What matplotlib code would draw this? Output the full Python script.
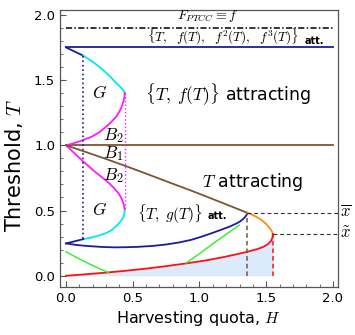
import numpy as np
import matplotlib
matplotlib.use('Agg')
import matplotlib.pyplot as plt

plt.rcParams['mathtext.fontset'] = 'cm'
plt.rcParams['font.family'] = 'DejaVu Sans'

# values (H, T)
ptcc_T = 1.9
period4_T = 1.75
fixed_T = 1.0

# upper S-branch
up_blue_H = [0.0, 0.13]
up_blue_T = [1.75, 1.686]
up_cyan_H = [0.13, 0.17, 0.217, 0.26, 0.292, 0.33, 0.367, 0.395, 0.417, 0.432, 0.44]
up_cyan_T = [1.686, 1.66, 1.627, 1.592, 1.563, 1.527, 1.487, 1.458, 1.436, 1.418, 1.40]
up_mag_H = [0.44, 0.438, 0.43, 0.417, 0.40, 0.38, 0.35, 0.32, 0.292, 0.25, 0.192, 0.14, 0.092, 0.045, 0.0]
up_mag_T = [1.40, 1.37, 1.335, 1.295, 1.258, 1.225, 1.19, 1.16, 1.135, 1.10, 1.065, 1.045, 1.027, 1.012, 1.0]

# lower S-branch
lo_mag_H = [0.0, 0.06, 0.117, 0.167, 0.217, 0.267, 0.317, 0.36, 0.395, 0.418, 0.432, 0.44]
lo_mag_T = [1.0, 0.942, 0.887, 0.842, 0.797, 0.757, 0.715, 0.672, 0.63, 0.59, 0.55, 0.503]
lo_cyan_H = [0.44, 0.437, 0.43, 0.417, 0.395, 0.37, 0.342, 0.30, 0.242, 0.19, 0.13]
lo_cyan_T = [0.503, 0.47, 0.448, 0.427, 0.40, 0.375, 0.35, 0.327, 0.307, 0.293, 0.281]
lo_blue_H = [0.13, 0.0]
lo_blue_T = [0.281, 0.248]

# brown diagonal
brown_H = [0.0, 0.15, 0.3, 0.45, 0.6, 0.78, 0.95, 1.1, 1.25, 1.358]
brown_T = [1.0, 0.948, 0.895, 0.84, 0.783, 0.713, 0.648, 0.588, 0.527, 0.483]

# blue period-2 branch
blue_H = [0.0, 0.08, 0.167, 0.27, 0.367, 0.45, 0.54, 0.65, 0.75, 0.85, 0.94, 1.01,
          1.079, 1.15, 1.228, 1.275, 1.303, 1.328, 1.345, 1.355, 1.358]
blue_T = [0.248, 0.236, 0.228, 0.221, 0.218, 0.219, 0.222, 0.229, 0.24, 0.256, 0.276, 0.298,
          0.322, 0.348, 0.378, 0.40, 0.416, 0.435, 0.455, 0.47, 0.483]

# orange + red fold
orange_H = [1.358, 1.395, 1.43, 1.466, 1.50, 1.528, 1.543, 1.55]
orange_T = [0.483, 0.468, 0.45, 0.427, 0.397, 0.363, 0.34, 0.32]
red_H = [0.0, 0.1, 0.2, 0.317, 0.45, 0.6, 0.75, 0.9, 1.05, 1.178, 1.27, 1.358,
         1.428, 1.475, 1.51, 1.535, 1.546, 1.55]
red_T = [0.0, 0.008, 0.016, 0.026, 0.039, 0.055, 0.074, 0.095, 0.118, 0.143, 0.163, 0.184,
         0.203, 0.22, 0.24, 0.265, 0.29, 0.32]

# green lines
green1_H = [0.0, 0.08, 0.167, 0.25, 0.317]
green1_T = [0.184, 0.14, 0.095, 0.055, 0.026]
green2_H = [0.9, 1.0, 1.1, 1.2, 1.298]
green2_T = [0.097, 0.17, 0.245, 0.318, 0.388]

xbar_H, xbar_T = 1.358, 0.483
xtil_H, xtil_T = 1.55, 0.32

navy = '#1c1c9c'
cyan = '#00e8f8'
mag = '#ff1aff'
brown = '#7b5531'
red = '#ff1010'
green = '#2af02a'
orange = '#ff8c10'
lw = 1.3

fig = plt.figure(figsize=(3.55, 3.35), dpi=100)
ax = fig.add_axes([0.169, 0.142, 0.782, 0.828])

# shaded region under red curve
ax.fill_between(red_H, 0, red_T, color='#dcebfb', lw=0, zorder=0)

ax.plot([0, 2.0], [ptcc_T, ptcc_T], color='black', ls=(0, (4, 1.5, 1, 1.5)), lw=1.1)
ax.plot([0, 2.0], [period4_T, period4_T], color=navy, lw=lw)
ax.plot([0, 2.0], [fixed_T, fixed_T], color=brown, lw=lw)

ax.plot(up_blue_H, up_blue_T, color=navy, lw=lw)
ax.plot(up_cyan_H, up_cyan_T, color=cyan, lw=lw)
ax.plot(up_mag_H, up_mag_T, color=mag, lw=lw)
ax.plot(lo_mag_H, lo_mag_T, color=mag, lw=lw)
ax.plot(lo_cyan_H, lo_cyan_T, color=cyan, lw=lw)
ax.plot(lo_blue_H, lo_blue_T, color=navy, lw=lw)

# dotted verticals
ax.plot([up_blue_H[1], up_blue_H[1]], [up_blue_T[1], lo_blue_T[0]], color=navy, ls=':', lw=1.2)
ax.plot([up_cyan_H[-1], up_cyan_H[-1]], [up_cyan_T[-1], lo_cyan_T[0]], color=mag, ls=':', lw=1.0)

ax.plot(brown_H, brown_T, color=brown, lw=lw)
ax.plot(blue_H, blue_T, color=navy, lw=lw)
ax.plot(orange_H, orange_T, color=orange, lw=lw)
ax.plot(red_H, red_T, color=red, lw=lw)
ax.plot(green1_H, green1_T, color=green, lw=1.0)
ax.plot(green2_H, green2_T, color=green, lw=1.0)

# dashed guides
ax.plot([xbar_H, xbar_H], [0, xbar_T], color=brown, lw=1.1, ls=(0, (3, 2)))
ax.plot([xtil_H, xtil_H], [0, xtil_T], color=red, lw=1.1, ls=(0, (3, 2)))
ax.plot([xbar_H, 2.035], [xbar_T, xbar_T], color='#333333', lw=0.8, ls=(0, (3.5, 2.5)))
ax.plot([xtil_H, 2.035], [xtil_T, xtil_T], color='#333333', lw=0.8, ls=(0, (3.5, 2.5)))

# labels inside
ax.text(1.06, 1.99, r'$F_{PTCC}\equiv f$', fontsize=10, ha='center', va='center')
ax.text(1.745, 1.755, r'$\{T,\ \ f(T),\ \ f^2(T),\ \ f^3(T)\}$', fontsize=9.5,
        ha='right', va='bottom')
ax.text(1.785, 1.762, 'att.', fontsize=7, fontweight='bold', ha='left', va='bottom')
ax.text(0.255, 1.40, r'$G$', fontsize=12.5, ha='center', va='center')
ax.text(0.255, 0.503, r'$G$', fontsize=12.5, ha='center', va='center')
ax.text(0.355, 1.075, r'$B_2$', fontsize=12.5, ha='center', va='center')
ax.text(0.355, 0.935, r'$B_1$', fontsize=12.5, ha='center', va='center')
ax.text(0.355, 0.772, r'$B_2$', fontsize=12.5, ha='center', va='center')
ax.text(1.21, 1.385, r'$\{T,\; f(T)\}$ attracting', fontsize=12.5, ha='center', va='center')
ax.text(1.40, 0.72, r'$T$ attracting', fontsize=12.5, ha='center', va='center')
ax.text(1.026, 0.47, r'$\{T,\; g(T)\}$', fontsize=11, ha='right', va='center')
ax.text(1.06, 0.455, 'att.', fontsize=7, fontweight='bold', ha='left', va='center')

# labels outside to the right
ax.text(2.055, 0.495, r'$\overline{x}$', fontsize=12, ha='left', va='center', clip_on=False)
ax.text(2.055, 0.325, r'$\tilde{x}$', fontsize=12, ha='left', va='center', clip_on=False)

ax.set_xlim(-0.045, 2.035)
ax.set_ylim(-0.089, 2.036)
ax.set_xticks([0, 0.5, 1.0, 1.5, 2.0])
ax.set_yticks([0, 0.5, 1.0, 1.5, 2.0])
ax.set_xticklabels(['0.0', '0.5', '1.0', '1.5', '2.0'])
ax.set_yticklabels(['0.0', '0.5', '1.0', '1.5', '2.0'])
ax.set_xticks(np.arange(0, 2.01, 0.1), minor=True)
ax.set_yticks(np.arange(0, 2.01, 0.1), minor=True)
ax.tick_params(which='both', direction='in', color='#555555', labelsize=9.5)
ax.tick_params(which='major', length=4, width=0.8)
ax.tick_params(which='minor', length=2, width=0.6)
for s in ax.spines.values():
    s.set_color('#555555')
    s.set_linewidth(0.9)

ax.set_xlabel(r'Harvesting quota, $H$', fontsize=11.5, labelpad=3)
ax.set_ylabel(r'Threshold, $T$', fontsize=15)
ax.yaxis.set_label_coords(-0.125, 0.44)

fig.savefig('out.png', dpi=100)
